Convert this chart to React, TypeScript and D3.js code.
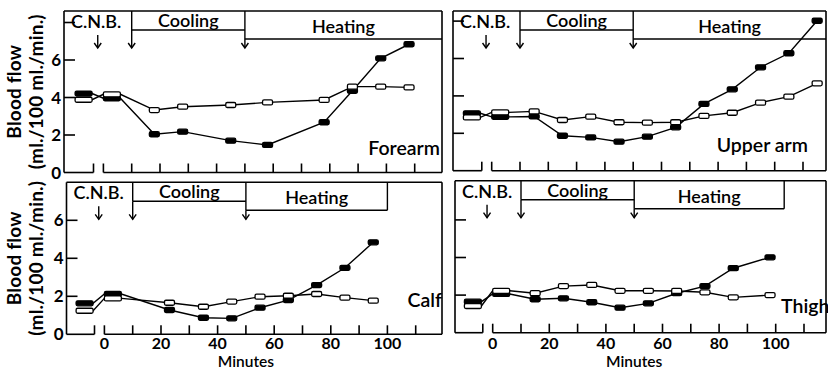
import React from "react";
import * as d3 from "d3";

// Each series: index 0 = before C.N.B. (-10..-4 min), index 1 = after C.N.B. (0..6 min),
// then one value per entry of the matching times array.
const preSpan = [-10, -4];
const postSpan = [0, 6];

const forearmTimes = [18, 28, 45, 58, 78, 88, 98, 108];
const forearmFilled = [4.21, 3.96, 2.04, 2.18, 1.7, 1.47, 2.68, 4.36, 6.09, 6.84];
const forearmOpen = [3.88, 4.17, 3.33, 3.51, 3.6, 3.74, 3.87, 4.58, 4.58, 4.54];

const upperTimes = [15, 25, 35, 45, 55, 65, 75, 85, 95, 105, 115];
const upperFilled = [3.07, 2.88, 2.9, 1.87, 1.78, 1.55, 1.82, 2.32, 3.57, 4.35, 5.53, 6.28, 8.02];
const upperOpen = [2.85, 3.12, 3.17, 2.71, 2.89, 2.59, 2.57, 2.59, 2.93, 3.1, 3.64, 3.96, 4.67];

const calfTimes = [23, 35, 45, 55, 65, 75, 85, 95];
const calfFilled = [1.63, 2.12, 1.28, 0.87, 0.84, 1.4, 1.8, 2.59, 3.5, 4.84];
const calfOpen = [1.24, 1.89, 1.66, 1.45, 1.72, 1.98, 2.03, 2.12, 1.93, 1.77];

const thighTimes = [15, 25, 35, 45, 55, 65, 75, 85, 98];
const thighFilled = [1.65, 2.06, 1.78, 1.83, 1.62, 1.33, 1.56, 2.1, 2.48, 3.43, 4.01];
const thighOpen = [1.42, 2.23, 2.1, 2.48, 2.54, 2.23, 2.23, 2.22, 2.15, 1.88, 2.0];

const yTicks = [0, 2, 4, 6, 8];
const yTickLabels = [0, 2, 4, 6];
const xTicks = d3.range(0, 120, 10);
const xTickLabels = [0, 20, 40, 60, 80, 100];

const FONT = "Lato, 'Open Sans', sans-serif";

interface PanelCfg
{
    name: string;
    times: number[];
    filled: number[];
    open: number[];
    left: number;
    right: number;
    top: number;
    base: number;
    zeroX: number;
    unit: number;
    heatEnd: number | null;
    yAxis: boolean;
    xAxis: boolean;
    labelAnchor: "start" | "end";
    labelX: number;
    labelDy: number;
}

const panels: PanelCfg[] = [
    { name: "Forearm", times: forearmTimes, filled: forearmFilled, open: forearmOpen,
        left: 64, right: 442, top: 11, base: 172.5, zeroX: 103.4, unit: 18.75, heatEnd: null,
        yAxis: true, xAxis: false, labelAnchor: "end", labelX: 440, labelDy: 17.5 },
    { name: "Upper arm", times: upperTimes, filled: upperFilled, open: upperOpen,
        left: 453, right: 826, top: 11, base: 170.7, zeroX: 491.7, unit: 18.7, heatEnd: null,
        yAxis: false, xAxis: false, labelAnchor: "end", labelX: 808, labelDy: 18.5 },
    { name: "Calf", times: calfTimes, filled: calfFilled, open: calfOpen,
        left: 66.5, right: 442, top: 182.3, base: 334.3, zeroX: 104.4, unit: 19, heatEnd: 100,
        yAxis: true, xAxis: true, labelAnchor: "end", labelX: 442, labelDy: 27 },
    { name: "Thigh", times: thighTimes, filled: thighFilled, open: thighOpen,
        left: 455, right: 826, top: 180.7, base: 332.7, zeroX: 492.7, unit: 18.8, heatEnd: 103,
        yAxis: false, xAxis: true, labelAnchor: "start", labelX: 781, labelDy: 20 },
];

function Arrow ( { x, y1, y2 }: { x: number; y1: number; y2: number } )
{
    return (
        <g stroke="#000" strokeWidth={ 1.4 } fill="none">
            <line x1={ x } y1={ y1 } x2={ x } y2={ y2 } />
            <polyline points={ `${ x - 3.5 },${ y2 - 5 } ${ x },${ y2 } ${ x + 3.5 },${ y2 - 5 }` } />
        </g>
    );
}

function Panel ( { p }: { p: PanelCfg } )
{
    const x = d3.scaleLinear().domain( [ 0, 10 ] ).range( [ p.zeroX, p.zeroX + 28.3 ] );
    const y = d3.scaleLinear().domain( [ 0, 8 ] ).range( [ p.base, p.base - 8 * p.unit ] );
    const breakX = x( -3.5 );
    const heatRight = p.heatEnd == null ? p.right : x( p.heatEnd );
    const coolY = p.top + 19;
    const heatY = p.top + 28;
    const arrowY = p.top + 37;

    const linePts = ( vals: number[] ): [ number, number ][] => [
        [ preSpan[ 0 ], vals[ 0 ] ], [ preSpan[ 1 ], vals[ 0 ] ],
        [ postSpan[ 0 ], vals[ 1 ] ], [ postSpan[ 1 ], vals[ 1 ] ],
        ...p.times.map( ( t, i ) => [ t, vals[ i + 2 ] ] as [ number, number ] ),
    ];
    const line = d3.line<[ number, number ]>().x( d => x( d[ 0 ] ) ).y( d => y( d[ 1 ] ) );

    const markers = ( vals: number[], filled: boolean ) =>
    {
        const spans: [ number, number, number ][] = [
            [ x( preSpan[ 0 ] ), x( preSpan[ 1 ] ), vals[ 0 ] ],
            [ x( postSpan[ 0 ] ), x( postSpan[ 1 ] ), vals[ 1 ] ],
            ...p.times.map( ( t, i ) => [ x( t ) - 5, x( t ) + 5, vals[ i + 2 ] ] as [ number, number, number ] ),
        ];
        return spans.map( ( [ a, b, v ], i ) => (
            <rect key={ i } x={ a } y={ y( v ) - 2.5 } width={ b - a } height={ 5 } rx={ 1.5 }
                fill={ filled ? "#000" : "#fff" } stroke="#000" strokeWidth={ 1.3 } />
        ) );
    };

    const headStyle = { fontFamily: FONT, fontSize: 18, fontWeight: 600 as const };
    const nameStyle = { fontFamily: FONT, fontSize: 19.5, fontWeight: 600 as const };

    return (
        <g>
            {/* frame */ }
            <g stroke="#000" strokeWidth={ 1.6 } fill="none">
                <line x1={ p.left } y1={ p.top } x2={ p.right } y2={ p.top } />
                <line x1={ p.right } y1={ p.top } x2={ p.right } y2={ p.base } />
                <line x1={ p.left } y1={ p.top } x2={ p.left } y2={ p.base } />
                <line x1={ p.left } y1={ p.base } x2={ breakX } y2={ p.base } />
                <line x1={ x( 0 ) } y1={ p.base } x2={ p.right } y2={ p.base } />
                <line x1={ breakX } y1={ p.base } x2={ breakX } y2={ p.base - 9 } />
                { xTicks.filter( t => x( t ) < p.right - 2 ).map( t => (
                    <line key={ t } x1={ x( t ) } y1={ p.base } x2={ x( t ) } y2={ p.base - 9 } />
                ) ) }
                { yTicks.filter( v => y( v ) > p.top + 2 && v > 0 ).map( v => (
                    <line key={ v } x1={ p.left } y1={ y( v ) } x2={ p.left + 11 } y2={ y( v ) } />
                ) ) }
            </g>

            {/* protocol header */ }
            <g stroke="#000" strokeWidth={ 1.4 } fill="none">
                <line x1={ x( 10 ) } y1={ coolY } x2={ x( 50 ) } y2={ coolY } />
                <line x1={ x( 50 ) } y1={ heatY } x2={ heatRight } y2={ heatY } />
                { p.heatEnd != null && <line x1={ heatRight } y1={ p.top } x2={ heatRight } y2={ heatY } /> }
                <line x1={ x( 10 ) } y1={ p.top } x2={ x( 10 ) } y2={ coolY } />
                <line x1={ x( 50 ) } y1={ p.top } x2={ x( 50 ) } y2={ heatY } />
            </g>
            <Arrow x={ x( -2 ) } y1={ p.top + 24 } y2={ arrowY } />
            <Arrow x={ x( 10 ) } y1={ coolY } y2={ arrowY } />
            <Arrow x={ x( 50 ) } y1={ heatY } y2={ arrowY } />
            <text x={ p.left + 7 } y={ p.top + 17 } style={ headStyle }>C.N.B.</text>
            <text x={ x( 30 ) } y={ p.top + 16 } textAnchor="middle" style={ headStyle }>Cooling</text>
            <text x={ ( x( 50 ) + heatRight ) / 2 } y={ p.top + 22 } textAnchor="middle" style={ headStyle }>Heating</text>

            {/* data */ }
            <path d={ line( linePts( p.open ) ) ?? "" } fill="none" stroke="#000" strokeWidth={ 1.4 } />
            <path d={ line( linePts( p.filled ) ) ?? "" } fill="none" stroke="#000" strokeWidth={ 1.4 } />
            { markers( p.filled, true ) }
            { markers( p.open, false ) }

            <text x={ p.labelX } y={ p.base - p.labelDy } textAnchor={ p.labelAnchor } style={ nameStyle }>{ p.name }</text>

            { p.yAxis && (
                <g style={ { fontFamily: FONT, fontSize: 17, fontWeight: 700 } }>
                    { yTickLabels.map( v => (
                        <text key={ v } x={ p.left - 3 } y={ y( v ) + 6 } textAnchor="end">{ v }</text>
                    ) ) }
                    <g style={ { fontSize: 19, letterSpacing: 0.2 } }>
                        <text transform={ `translate(21,${ ( p.top + p.base ) / 2 }) rotate(-90)` } textAnchor="middle">Blood flow</text>
                        <text transform={ `translate(43,${ ( p.top + p.base ) / 2 }) rotate(-90)` } textAnchor="middle">(ml./100 ml./min.)</text>
                    </g>
                </g>
            ) }
            { p.xAxis && (
                <g style={ { fontFamily: FONT, fontSize: 16, fontWeight: 700 } }>
                    { xTickLabels.map( t => (
                        <text key={ t } x={ x( t ) } y={ 349 } textAnchor="middle">{ t }</text>
                    ) ) }
                    <text x={ x( 50 ) } y={ 367 } textAnchor="middle" style={ { fontSize: 15.5, fontWeight: 600 } }>Minutes</text>
                </g>
            ) }
        </g>
    );
}

export default function App ()
{
    return (
        <svg width={ 828 } height={ 370 } style={ { position: "absolute", left: 0, top: 0, background: "#fff" } }>
            <rect width={ 828 } height={ 370 } fill="#fff" />
            { panels.map( p => <Panel key={ p.name } p={ p } /> ) }
        </svg>
    );
}
